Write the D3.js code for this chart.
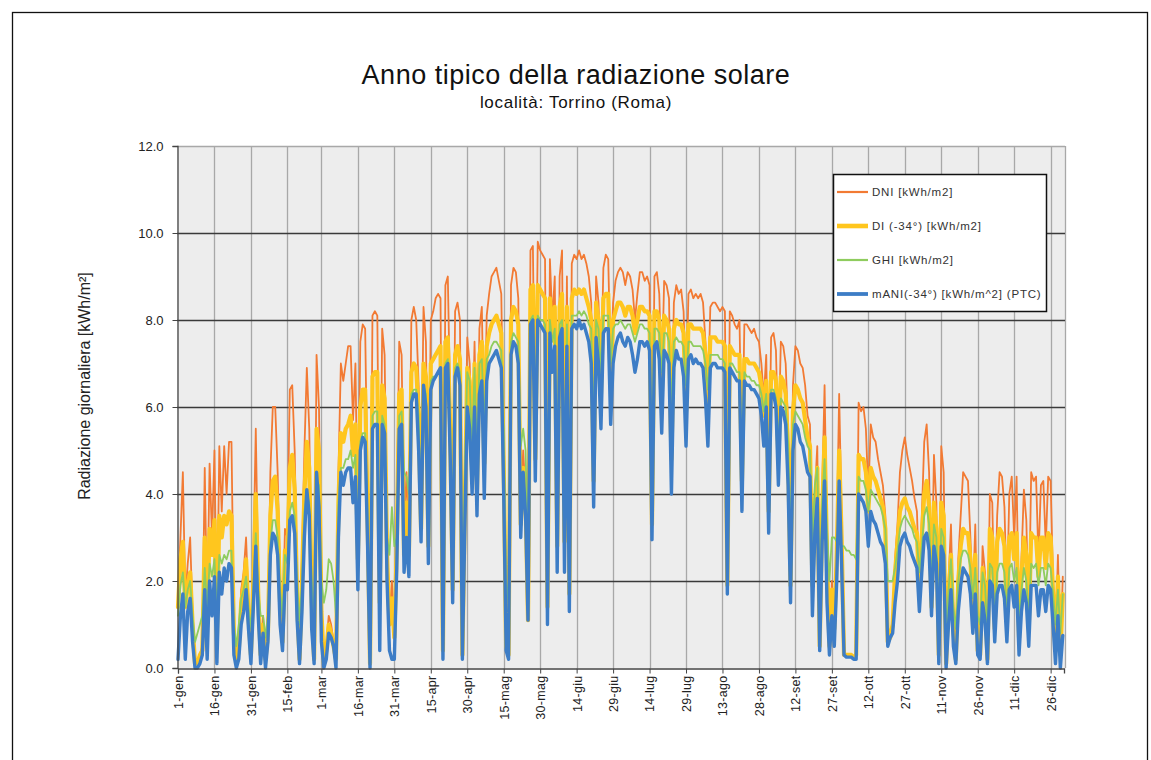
<!DOCTYPE html>
<html><head><meta charset="utf-8">
<script src="https://cdn.jsdelivr.net/npm/d3@7/dist/d3.min.js"></script>
<style>body{margin:0;background:#fff}svg{display:block}</style>
</head><body>
<svg id="c" width="1151" height="760"></svg>
<script>
// Daily values, 1 Jan .. 31 Dec (index = day of year - 1)
const dni = [
1.6,3.0,4.5,1.6,2.4,3.0,1.2,0.1,0.2,0.3,
0.5,4.6,1.2,4.7,3.0,5.0,0.8,5.1,3.6,5.1,
4.0,5.2,5.2,1.0,0.1,0.5,1.8,2.2,3.0,1.5,
0.4,2.5,5.5,2.0,0.3,1.2,0.2,1.0,4.5,6.0,
6.0,4.5,2.0,0.8,3.2,3.0,6.4,6.5,5.0,2.0,
0.3,2.5,5.0,6.9,5.5,2.0,0.3,7.2,6.0,1.5,
0.1,0.5,1.2,1.0,0.6,0.2,4.5,7.0,6.6,7.0,
7.4,7.4,5.7,7.0,3.0,7.5,7.9,7.8,4.0,0.1,
8.1,8.2,8.1,2.0,7.8,7.2,3.0,1.2,2.0,0.8,
3.5,7.5,7.2,3.0,4.5,3.0,8.0,8.3,8.0,6.5,
3.8,8.3,7.5,3.2,8.0,8.2,8.5,8.6,8.5,0.5,
8.8,9.0,6.0,2.0,8.2,8.4,8.0,0.3,4.0,7.6,
7.0,4.8,7.5,4.3,7.8,8.3,5.0,8.1,8.6,9.0,
9.1,9.2,8.9,8.6,5.0,0.6,0.3,8.8,9.2,9.1,
8.5,3.5,5.0,4.0,1.2,9.6,9.7,5.0,9.8,9.6,
9.5,9.4,1.5,9.4,8.0,9.0,3.0,9.0,9.6,3.0,
9.0,1.8,9.3,9.5,9.4,9.6,9.4,9.5,9.3,9.0,
8.4,4.5,9.0,8.4,6.6,9.2,9.5,9.4,6.8,8.4,
8.9,9.1,9.2,9.1,8.8,9.1,9.0,8.7,8.0,8.6,
9.1,9.1,8.9,9.0,8.8,3.5,9.0,9.1,8.6,6.5,
8.9,8.8,8.5,5.0,8.4,8.8,8.6,8.7,8.2,6.2,
8.6,8.7,8.5,8.6,8.5,8.6,8.4,7.5,6.2,8.3,
8.4,8.4,8.3,8.2,8.3,8.2,2.0,8.2,8.1,7.9,
7.8,8.0,4.5,7.9,7.9,7.8,7.7,7.8,7.6,7.5,
7.0,6.2,7.2,3.8,7.6,7.7,7.3,5.0,7.5,7.4,
7.0,5.5,2.0,6.5,7.4,7.3,7.0,6.9,6.5,5.8,
5.6,2.0,4.0,5.1,0.6,4.0,6.5,3.0,0.5,2.0,
1.0,3.0,6.3,3.5,0.3,0.3,0.3,0.3,0.25,0.3,
6.1,5.9,6.0,5.5,4.0,5.6,5.3,5.2,4.8,4.5,
4.2,3.5,0.6,0.8,1.0,2.5,3.3,4.5,5.0,5.3,
4.9,4.6,4.3,3.9,3.6,1.8,3.5,5.2,5.6,4.5,
1.5,4.9,3.8,0.3,5.1,4.5,0.1,2.0,3.3,1.0,
0.2,2.5,3.5,4.5,4.4,4.3,3.0,1.5,3.3,0.5,
0.3,2.8,2.2,0.2,4.0,3.8,1.0,3.5,4.5,4.4,
3.7,1.5,4.0,4.4,3.0,4.4,0.8,2.5,4.1,3.4,
1.0,4.5,4.3,4.4,2.5,4.2,4.3,2.8,4.4,4.3,
2.0,0.5,2.6,0.3,2.1];

const di = [
1.4,2.5,2.9,1.4,1.9,2.2,1.0,0.1,0.1,0.3,
0.4,3.0,1.0,3.2,2.6,3.4,0.7,3.5,3.0,3.5,
3.3,3.6,3.5,0.8,0.1,0.4,1.5,1.9,2.5,1.2,
0.3,2.0,4.0,1.7,0.3,1.0,0.2,0.8,3.5,4.3,
4.4,3.6,1.5,0.6,2.7,2.6,4.6,4.9,4.1,1.6,
0.2,2.0,4.0,5.2,4.6,1.6,0.2,5.5,5.0,1.3,
0.1,0.4,1.0,0.8,0.5,0.2,3.8,5.4,5.2,5.5,
5.6,5.8,4.9,5.6,2.5,6.0,6.4,6.4,3.5,0.1,
6.7,6.8,6.8,1.5,6.5,6.2,2.6,1.0,1.6,0.7,
2.8,6.3,6.4,2.6,3.8,2.6,6.8,7.0,6.9,5.8,
3.2,7.0,6.7,2.8,7.0,7.1,7.2,7.3,7.4,0.4,
7.5,7.6,5.4,1.8,7.2,7.4,7.1,0.3,3.7,6.9,
6.6,4.5,7.0,4.1,7.2,7.5,4.7,7.4,7.7,7.9,
8.0,8.1,7.9,7.7,4.6,0.5,0.3,8.0,8.3,8.2,
7.9,3.3,4.6,3.8,1.1,8.7,8.8,4.8,8.8,8.7,
8.6,8.5,1.4,8.5,7.6,8.3,2.8,8.3,8.6,2.9,
8.3,1.7,8.5,8.7,8.6,8.7,8.6,8.7,8.5,8.3,
8.0,4.3,8.4,8.0,6.3,8.5,8.6,8.6,6.5,8.0,
8.2,8.4,8.4,8.3,8.1,8.3,8.3,8.1,7.7,8.0,
8.3,8.3,8.2,8.2,8.1,3.3,8.2,8.2,8.0,6.2,
8.1,8.0,7.8,4.8,7.8,8.0,7.9,7.9,7.7,5.9,
7.9,7.9,7.8,7.8,7.8,7.8,7.7,7.2,6.0,7.6,
7.6,7.6,7.5,7.5,7.5,7.4,1.9,7.4,7.3,7.2,
7.2,7.2,4.3,7.1,7.1,7.0,7.0,7.0,6.9,6.8,
6.5,5.8,6.6,3.6,6.8,6.8,6.6,4.8,6.7,6.6,
6.3,5.0,1.9,5.9,6.5,6.4,6.2,6.1,5.7,5.3,
5.1,1.9,3.7,4.6,0.5,3.5,5.3,2.6,0.5,1.8,
0.9,2.6,5.0,3.0,0.3,0.3,0.3,0.3,0.25,0.3,
4.9,4.8,4.8,4.5,3.6,4.6,4.4,4.3,4.1,3.9,
3.7,3.2,0.6,0.7,1.0,2.2,2.9,3.6,3.8,3.9,
3.7,3.6,3.4,3.2,3.1,1.7,3.0,4.0,4.3,3.7,
1.4,3.8,3.2,0.3,3.8,3.5,0.1,1.7,2.6,0.9,
0.2,2.0,2.8,3.2,3.1,3.1,2.5,1.3,2.6,0.4,
0.3,2.3,1.9,0.2,3.2,3.0,0.9,2.9,3.2,3.1,
2.8,1.2,3.0,3.1,2.5,3.1,0.7,2.1,3.0,2.6,
0.9,3.1,3.0,3.0,2.1,3.0,3.0,2.3,3.1,3.0,
1.7,0.4,2.1,0.3,1.7];

const ghi = [
1.2,1.9,2.2,1.4,1.8,2.0,1.2,0.6,0.8,1.0,
1.2,2.3,1.4,2.4,2.1,2.5,1.3,2.6,2.4,2.6,
2.5,2.7,2.7,1.0,0.5,1.0,1.6,1.8,2.1,1.4,
0.9,1.8,3.1,1.8,1.2,1.2,0.7,1.2,2.9,3.4,
3.4,3.0,1.8,1.2,2.6,2.4,3.6,3.8,3.5,2.0,
1.0,2.0,3.6,4.0,3.8,2.0,1.0,4.3,4.2,2.0,
1.5,1.8,2.5,2.4,2.0,1.2,3.8,4.6,4.6,4.8,
4.8,5.0,4.6,4.9,3.0,5.2,5.4,5.4,3.5,0.6,
5.8,5.9,5.9,2.0,5.8,5.6,3.0,2.6,3.7,2.8,
3.0,5.8,5.9,4.5,4.4,4.0,6.3,6.4,6.4,5.8,
3.8,6.5,6.3,3.5,6.6,6.7,6.7,6.8,6.9,1.5,
7.0,7.1,5.7,3.0,6.9,7.0,6.8,1.2,4.5,6.8,
6.6,5.0,6.9,4.8,7.0,7.1,5.5,7.1,7.2,7.4,
7.5,7.5,7.4,7.3,5.5,2.0,1.5,7.5,7.7,7.6,
7.5,5.1,5.5,5.0,2.5,8.0,8.1,6.0,8.1,8.0,
8.0,7.9,3.0,8.0,7.5,7.8,4.5,7.9,8.0,4.5,
7.9,3.0,8.1,8.1,8.1,8.2,8.1,8.2,8.1,7.9,
7.8,5.5,8.0,7.8,6.8,8.1,8.1,8.1,7.0,7.8,
7.9,7.9,8.0,7.9,7.8,7.9,7.9,7.7,7.5,7.7,
7.9,7.9,7.8,7.8,7.7,5.0,7.8,7.8,7.7,6.8,
7.7,7.7,7.5,6.0,7.5,7.6,7.5,7.5,7.4,6.5,
7.5,7.5,7.4,7.4,7.4,7.4,7.3,7.0,6.4,7.2,
7.2,7.2,7.2,7.1,7.1,7.0,3.5,7.0,7.0,6.9,
6.8,6.8,5.2,6.8,6.7,6.7,6.6,6.6,6.5,6.5,
6.3,5.9,6.3,4.5,6.4,6.4,6.2,5.2,6.2,6.1,
6.0,5.2,3.0,5.6,5.9,5.8,5.7,5.6,5.3,5.1,
5.0,2.8,4.2,4.6,1.8,3.8,4.8,3.2,2.0,3.0,
3.0,2.9,2.9,2.8,2.8,2.7,2.7,2.6,2.6,2.5,
4.4,4.3,4.3,4.1,3.6,4.1,4.0,3.9,3.8,3.7,
3.5,3.2,2.0,2.0,2.0,2.3,2.7,3.2,3.4,3.5,
3.4,3.3,3.2,3.0,2.9,2.2,2.8,3.5,3.7,3.3,
2.0,3.3,3.0,1.2,3.2,3.0,0.8,1.8,2.5,1.4,
0.9,2.0,2.5,2.7,2.7,2.6,2.3,1.6,2.3,1.2,
1.0,2.2,1.9,0.8,2.4,2.3,1.2,2.2,2.4,2.4,
2.2,1.3,2.3,2.4,2.0,2.3,1.1,1.8,2.3,2.0,
1.2,2.4,2.3,2.4,1.9,2.3,2.3,1.9,2.4,2.3,
1.7,1.0,1.8,0.8,1.7];

const mani = [
0.2,1.2,1.7,0.2,1.3,1.6,0.6,0.0,0.0,0.1,
0.3,1.8,0.2,2.0,1.2,2.1,0.1,2.2,1.7,2.3,
2.0,2.4,2.3,0.3,0.0,0.2,1.0,1.3,1.8,0.9,
0.1,1.4,2.8,1.2,0.1,0.8,0.0,0.6,2.6,3.1,
3.0,2.6,1.0,0.4,1.9,1.8,3.4,3.5,3.1,1.1,
0.1,1.3,3.0,4.1,3.5,0.9,0.1,4.5,3.7,0.6,
0.0,0.2,0.8,0.7,0.5,0.0,3.0,4.5,4.2,4.5,
4.6,4.6,3.8,4.4,1.8,5.0,5.3,5.2,2.8,0.0,
5.5,5.6,5.6,0.4,5.6,5.4,2.0,0.4,0.2,0.2,
2.3,5.5,5.6,2.2,3.0,2.1,6.1,6.3,6.3,5.0,
2.9,6.5,6.0,2.4,6.4,6.6,6.7,6.8,6.9,0.2,
6.9,7.0,4.8,1.5,6.7,6.9,6.5,0.2,3.2,6.0,
5.5,4.0,6.0,3.5,6.3,6.6,3.9,6.6,7.0,7.1,
7.2,7.3,7.1,6.9,4.0,0.4,0.2,7.2,7.5,7.4,
7.0,3.0,4.5,3.5,1.1,7.9,8.0,4.3,8.0,7.9,
7.8,7.7,1.0,7.7,6.8,7.4,2.2,7.6,7.8,2.2,
7.4,1.3,7.8,7.9,7.8,8.0,7.8,7.9,7.7,7.5,
7.0,3.7,7.6,7.0,5.5,7.7,7.8,7.8,5.6,7.0,
7.4,7.6,7.7,7.5,7.4,7.6,7.5,7.2,6.8,7.1,
7.5,7.5,7.4,7.5,7.3,2.95,7.4,7.5,7.1,5.4,
7.3,7.2,7.0,4.0,6.9,7.3,7.1,7.1,6.7,5.1,
7.1,7.2,7.0,7.1,7.0,7.0,6.9,6.2,5.1,6.9,
7.0,7.0,6.9,6.9,6.9,6.8,1.7,6.9,6.8,6.7,
6.6,6.6,3.6,6.6,6.5,6.5,6.4,6.4,6.3,6.2,
5.8,5.1,6.0,3.1,6.3,6.3,6.0,4.2,6.0,5.9,
5.6,4.2,1.5,5.0,5.6,5.5,5.2,5.1,4.8,4.5,
4.4,1.2,3.1,3.9,0.4,2.9,4.3,1.5,0.3,1.2,
0.5,2.0,4.3,2.4,0.3,0.25,0.25,0.25,0.2,0.2,
4.0,3.9,3.8,3.6,2.8,3.6,3.4,3.3,3.1,2.9,
2.8,2.4,0.5,0.7,0.8,1.5,2.0,2.8,3.0,3.1,
2.9,2.8,2.6,2.45,2.3,1.3,2.2,3.0,3.1,2.7,
1.2,2.8,2.4,0.1,2.8,2.6,0.0,1.0,1.8,0.5,
0.1,1.3,1.9,2.3,2.2,2.1,1.7,0.8,1.7,0.3,
0.2,1.5,1.1,0.1,2.0,1.9,0.6,1.7,1.9,1.9,
1.6,0.6,1.8,1.9,1.4,1.9,0.3,1.3,1.8,1.5,
0.5,1.9,1.9,1.9,1.2,1.8,1.8,1.3,1.9,1.8,
1.0,0.1,1.2,0.0,0.75];

const tickDays = [0,15,30,45,59,74,89,104,119,134,149,164,179,194,209,224,239,254,269,284,299,314,329,344,359];
const tickLabels = ["1-gen","16-gen","31-gen","15-feb","1-mar","16-mar","31-mar","15-apr","30-apr","15-mag","30-mag","14-giu","29-giu","14-lug","29-lug","13-ago","28-ago","12-set","27-set","12-ott","27-ott","11-nov","26-nov","11-dic","26-dic"];
const yTicks = [0,2,4,6,8,10,12];
const seriesNames = ["DNI [kWh/m2]","DI (-34°) [kWh/m2]","GHI [kWh/m2]","mANI(-34°) [kWh/m^2] (PTC)"];
const seriesColors = ["#F27A33","#FFC61E","#8FCC5E","#3D7DC6"];
const seriesWidths = [1.8,4.2,1.8,3.4];
const seriesData = [dni, di, ghi, mani];

const FONT = "'Liberation Sans', Arial, sans-serif";
const svg = d3.select("#c");
const L = 177, R = 1065, T = 146, B = 668;
const x = d3.scaleLinear().domain([0, 364.5]).range([L + 1, R - 1]);
const y = d3.scaleLinear().domain([0, 12]).range([B, T]);

// outer frame
svg.append("rect").attr("x",12.5).attr("y",12.5).attr("width",1135).attr("height",800)
  .attr("fill","none").attr("stroke","#111").attr("stroke-width",1.3);

// titles
svg.append("text").attr("x",576).attr("y",84).attr("text-anchor","middle")
  .attr("font-family",FONT).attr("font-size",27).attr("letter-spacing",0.5).attr("fill","#111")
  .text("Anno tipico della radiazione solare");
svg.append("text").attr("x",576).attr("y",108).attr("text-anchor","middle")
  .attr("font-family",FONT).attr("font-size",17).attr("letter-spacing",0.7).attr("fill","#111")
  .text("località: Torrino (Roma)");

// plot background
svg.append("rect").attr("x",L).attr("y",T).attr("width",R-L).attr("height",B-T).attr("fill","#EDEDED");

// vertical grid
svg.append("g").selectAll("line").data(tickDays.slice(1)).join("line")
  .attr("x1",d=>Math.round(x(d))+0.5).attr("x2",d=>Math.round(x(d))+0.5)
  .attr("y1",T).attr("y2",B).attr("stroke","#A8A8A8").attr("stroke-width",1.3);
// right & top border
svg.append("line").attr("x1",R+0.5).attr("x2",R+0.5).attr("y1",T).attr("y2",B).attr("stroke","#A8A8A8").attr("stroke-width",1.3);
svg.append("line").attr("x1",L).attr("x2",R).attr("y1",T+0.5).attr("y2",T+0.5).attr("stroke","#A8A8A8").attr("stroke-width",1.3);
// horizontal grid
svg.append("g").selectAll("line").data(yTicks.filter(v=>v>0 && v<12)).join("line")
  .attr("x1",L).attr("x2",R).attr("y1",d=>Math.round(y(d))+0.5).attr("y2",d=>Math.round(y(d))+0.5)
  .attr("stroke","#3A3A3A").attr("stroke-width",1.3);

// series
const line = d3.line().x((d,i)=>x(i)).y(d=>y(d));
const gS = svg.append("g");
seriesData.forEach((arr,k)=>{
  gS.append("path").datum(arr).attr("d",line).attr("fill","none")
    .attr("stroke",seriesColors[k]).attr("stroke-width",seriesWidths[k])
    .attr("stroke-linejoin","round").attr("stroke-linecap","round");
});

// axes
const yAxis = d3.axisLeft(y).tickValues(yTicks).tickFormat(d3.format(".1f")).tickSize(5).tickPadding(9);
const gy = svg.append("g").attr("transform",`translate(${L+0.5},0)`).call(yAxis);
gy.select(".domain").attr("stroke","#444").attr("stroke-width",1.3);
gy.selectAll(".tick line").attr("stroke","#444");
gy.selectAll("text").attr("font-family",FONT).attr("font-size",13).attr("fill","#222");

const xAxis = d3.axisBottom(x).tickValues(tickDays).tickFormat((d,i)=>tickLabels[i]).tickSize(5);
const gx = svg.append("g").attr("transform",`translate(0,${B+0.5})`).call(xAxis);
gx.select(".domain").attr("stroke","#444").attr("stroke-width",1.3);
gx.selectAll(".tick line").attr("stroke","#444");
gx.selectAll("text").attr("font-family",FONT).attr("font-size",12.5).attr("letter-spacing",0.3).attr("fill","#222")
  .attr("transform","rotate(-90)").attr("text-anchor","end")
  .attr("x",-7).attr("y",0).attr("dy","0.35em");

// y label
svg.append("text").attr("transform","translate(90,386) rotate(-90)").attr("text-anchor","middle")
  .attr("font-family",FONT).attr("font-size",16).attr("fill","#222")
  .text("Radiazione giornaliera [kWh/m²]");

// legend
const lg = svg.append("g");
lg.append("rect").attr("x",833.5).attr("y",174.5).attr("width",213).attr("height",137)
  .attr("fill","#fff").attr("stroke","#111").attr("stroke-width",1.5);
const ly = [192,226,260,294];
seriesNames.forEach((nm,k)=>{
  lg.append("line").attr("x1",837).attr("x2",868).attr("y1",ly[k]).attr("y2",ly[k])
    .attr("stroke",seriesColors[k]).attr("stroke-width",seriesWidths[k]+0.4);
  lg.append("text").attr("x",872).attr("y",ly[k]).attr("dy","0.35em")
    .attr("font-family",FONT).attr("font-size",11.5).attr("letter-spacing",0.8).attr("fill","#333").text(nm);
});
</script>
</body></html>
